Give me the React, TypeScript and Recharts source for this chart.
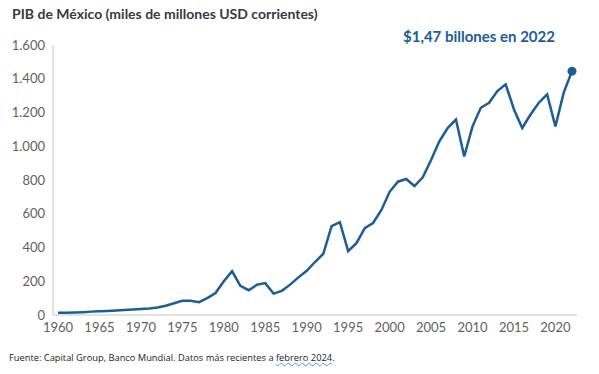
import { LineChart, Line, XAxis, YAxis } from 'recharts';

const years = [
    1960, 1961, 1962, 1963, 1964, 1965, 1966, 1967, 1968, 1969,
    1970, 1971, 1972, 1973, 1974, 1975, 1976, 1977, 1978, 1979,
    1980, 1981, 1982, 1983, 1984, 1985, 1986, 1987, 1988, 1989,
    1990, 1991, 1992, 1993, 1994, 1995, 1996, 1997, 1998, 1999,
    2000, 2001, 2002, 2003, 2004, 2005, 2006, 2007, 2008, 2009,
    2010, 2011, 2012, 2013, 2014, 2015, 2016, 2017, 2018, 2019,
    2020, 2021, 2022,
];

// PIB, miles de millones USD corrientes
const gdp = [
    13, 14, 15, 17, 20, 22, 24, 27, 29, 32,
    36, 39, 45, 55, 70, 84, 84, 76, 100, 130,
    200, 259, 173, 147, 179, 189, 127, 143, 180, 223,
    262, 314, 363, 527, 550, 378, 426, 515, 545, 621,
    730, 790, 806, 764, 816, 919, 1029, 1108, 1158, 939,
    1118, 1228, 1258, 1327, 1367, 1218, 1108, 1188, 1258, 1307,
    1118, 1318, 1445,
];

const yTicks = [0, 200, 400, 600, 800, 1000, 1200, 1400, 1600];
const xTicks = [1960, 1965, 1970, 1975, 1980, 1985, 1990, 1995, 2000, 2005, 2010, 2015, 2020];

const data = years.map((year, i) => ({ year, value: gdp[i] }));
const lastIndex = data.length - 1;

const blue = '#1c5d96';
const axisGray = '#c4c4c4';
const tickStyle = { fill: '#5f5f5f', fontSize: 13, fontFamily: 'Lato, sans-serif' };

const fmt = (v: number) => v.toLocaleString('de-DE');

const renderDot = (props: any) => {
    if (props.index !== lastIndex) return <g key={`d-${props.index}`} />;
    return <circle key="last" cx={props.cx} cy={props.cy} r={4.5} fill={blue} stroke="none" />;
};

const App = () => {
    return (
        <div style={{ position: 'absolute', left: 0, top: 0, width: 599, height: 374, background: '#fff', fontFamily: 'Lato, sans-serif' }}>
            <div style={{ position: 'absolute', left: 12, top: 5, fontSize: 14, fontWeight: 700, color: '#3a3a3a' }}>
                PIB de México (miles de millones USD corrientes)
            </div>
            <div style={{ position: 'absolute', left: 403, top: 27, fontSize: 15, fontWeight: 700, color: blue }}>
                $1,47 billones en 2022
            </div>
            <LineChart width={599} height={374} data={data} margin={{ top: 45, right: 22, bottom: 39, left: 0 }}>
                <XAxis
                    dataKey="year"
                    type="number"
                    domain={[1960, 2022]}
                    ticks={xTicks}
                    padding={{ left: 5, right: 5 }}
                    tickLine={false}
                    stroke={axisGray}
                    tick={tickStyle}
                    height={20}
                    tickMargin={2}
                />
                <YAxis
                    type="number"
                    domain={[0, 1600]}
                    ticks={yTicks}
                    tickFormatter={fmt}
                    tickLine={false}
                    stroke={axisGray}
                    tick={tickStyle}
                    width={53}
                />
                <Line
                    type="linear"
                    dataKey="value"
                    stroke={blue}
                    strokeWidth={2.5}
                    dot={renderDot}
                    activeDot={false}
                    isAnimationActive={false}
                />
            </LineChart>
            <div style={{ position: 'absolute', left: 9, top: 351, fontSize: 9.3, color: '#222', fontFamily: '"Open Sans", sans-serif' }}>
                Fuente: Capital Group, Banco Mundial. Datos más recientes a{' '}
                <span style={{ textDecoration: 'underline wavy #5b8fd6', textDecorationThickness: 1 }}>febrero 2024</span>.
            </div>
        </div>
    );
};

export default App;
